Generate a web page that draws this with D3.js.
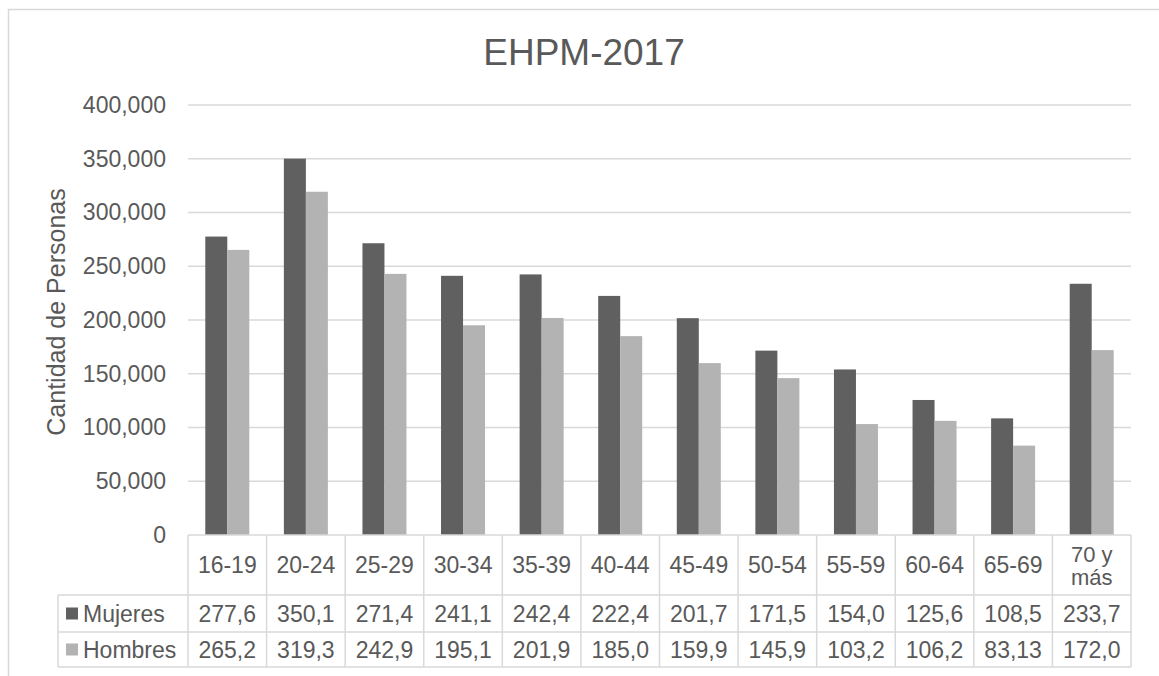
<!DOCTYPE html>
<html>
<head>
<meta charset="utf-8">
<script src="https://cdn.jsdelivr.net/npm/d3@7"></script>
<style>
  html, body { margin: 0; padding: 0; background: #fff; }
  svg { display: block; font-family: "Liberation Sans", Arial, sans-serif; }
</style>
</head>
<body>
<svg id="chart" width="1159" height="676"></svg>
<script>
// ---- data ----
const categories = ["16-19","20-24","25-29","30-34","35-39","40-44","45-49","50-54","55-59","60-64","65-69","70 y más"];
const seriesNames = ["Mujeres","Hombres"];
const mujeres = [277600, 350100, 271400, 241100, 242400, 222400, 201700, 171500, 154000, 125600, 108500, 233700];
const hombres = [265200, 319300, 242900, 195100, 201900, 185000, 159900, 145900, 103200, 106200, 83130, 172000];
const mujeresLabels = ["277,6","350,1","271,4","241,1","242,4","222,4","201,7","171,5","154,0","125,6","108,5","233,7"];
const hombresLabels = ["265,2","319,3","242,9","195,1","201,9","185,0","159,9","145,9","103,2","106,2","83,13","172,0"];
const yTicks = [0, 50000, 100000, 150000, 200000, 250000, 300000, 350000, 400000];
const title = "EHPM-2017";
const yTitle = "Cantidad de Personas";

// ---- layout ----
const svg = d3.select("#chart");
const textColor = "#595959";
const gridColor = "#d9d9d9";
const colors = {Mujeres: "#606060", Hombres: "#b3b3b3"};
const plotLeft = 188, plotRight = 1131, plotTop = 105, plotBottom = 535;
const rowTops = [535, 595, 632, 667];
const legendLeft = 58;

// outer chart border
svg.append("rect").attr("x", 8.5).attr("y", 9.5).attr("width", 1200).attr("height", 700)
  .attr("fill", "none").attr("stroke", gridColor).attr("stroke-width", 1.5);

const x = d3.scaleBand().domain(categories).range([plotLeft, plotRight])
  .paddingInner(0.44).paddingOuter(0.22);
const xs = d3.scaleBand().domain(seriesNames).range([0, x.bandwidth()]).padding(0);
const y = d3.scaleLinear().domain([0, 400000]).range([plotBottom, plotTop]);

// gridlines + y labels via axis
const yAxis = d3.axisLeft(y).tickValues(yTicks).tickFormat(d3.format(",")).tickSize(0).tickPadding(22);
const gy = svg.append("g").attr("transform", `translate(${plotLeft},0)`).call(yAxis);
gy.select(".domain").remove();
gy.selectAll("text").attr("fill", textColor).style("font-size", "23px")
  .style("font-family", '"Liberation Sans", Arial, sans-serif');
svg.append("g").selectAll("line").data(yTicks.filter(d => d > 0)).join("line")
  .attr("x1", plotLeft).attr("x2", plotRight)
  .attr("y1", d => y(d)).attr("y2", d => y(d))
  .attr("stroke", gridColor).attr("stroke-width", 1.5);

// bars
const series = [{name: "Mujeres", values: mujeres}, {name: "Hombres", values: hombres}];
const gBars = svg.append("g");
series.forEach(s => {
  gBars.selectAll(null).data(categories).join("rect")
    .attr("x", c => x(c) + xs(s.name))
    .attr("y", (c, i) => y(s.values[i]))
    .attr("width", xs.bandwidth())
    .attr("height", (c, i) => y(0) - y(s.values[i]))
    .attr("fill", colors[s.name]);
});

// data table
const step = x.step();
const colLeft = i => plotLeft + i * step;
const gT = svg.append("g").attr("stroke", gridColor).attr("stroke-width", 1.5);
gT.append("line").attr("x1", plotLeft).attr("x2", plotRight).attr("y1", rowTops[0]).attr("y2", rowTops[0]);
for (let r = 1; r < rowTops.length; r++) {
  gT.append("line").attr("x1", legendLeft).attr("x2", plotRight).attr("y1", rowTops[r]).attr("y2", rowTops[r]);
}
for (let i = 0; i <= categories.length; i++) {
  const xx = colLeft(i);
  gT.append("line").attr("x1", xx).attr("x2", xx).attr("y1", rowTops[0]).attr("y2", rowTops[3]);
}
gT.append("line").attr("x1", legendLeft).attr("x2", legendLeft).attr("y1", rowTops[1]).attr("y2", rowTops[3]);

const tt = svg.append("g").attr("fill", textColor).style("font-size", "23px");
categories.forEach((c, i) => {
  const cx = colLeft(i) + step / 2;
  const cy = (rowTops[0] + rowTops[1]) / 2;
  const parts = c === "70 y más" ? ["70 y", "más"] : [c];
  const t = tt.append("text").attr("text-anchor", "middle").attr("x", cx);
  if (parts.length === 1) {
    t.attr("y", cy).attr("dy", "0.35em").text(c);
  } else {
    t.attr("y", cy - 11).attr("dy", "0.35em").style("font-size", "22px");
    t.append("tspan").attr("x", cx).text(parts[0]);
    t.append("tspan").attr("x", cx).attr("dy", "23").text(parts[1]);
  }
});
[mujeresLabels, hombresLabels].forEach((labels, r) => {
  const cy = (rowTops[r + 1] + rowTops[r + 2]) / 2;
  labels.forEach((lab, i) => {
    tt.append("text").attr("text-anchor", "middle").attr("x", colLeft(i) + step / 2)
      .attr("y", cy).attr("dy", "0.35em").text(lab);
  });
  // legend key
  svg.append("rect").attr("x", 66).attr("y", cy - 6).attr("width", 12).attr("height", 12)
    .attr("fill", colors[seriesNames[r]]);
  tt.append("text").attr("x", 83).attr("y", cy).attr("dy", "0.35em").text(seriesNames[r]);
});

// titles
svg.append("text").attr("x", 584).attr("y", 65).attr("text-anchor", "middle")
  .attr("fill", textColor).style("font-size", "37px").text(title);
svg.append("text").attr("transform", "translate(65,312) rotate(-90)")
  .attr("text-anchor", "middle").attr("fill", textColor).style("font-size", "25px").text(yTitle);
</script>
</body>
</html>
